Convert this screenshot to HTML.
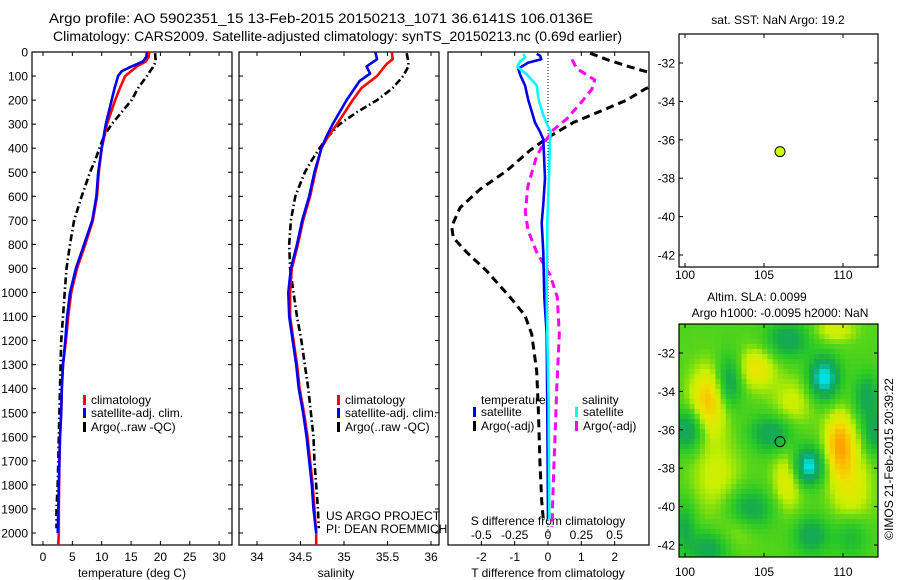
<!DOCTYPE html>
<html><head><meta charset="utf-8"><style>
html,body{margin:0;padding:0;background:#fff;}
svg{display:block;font-family:"Liberation Sans",sans-serif;}
</style></head><body>
<svg id="chart" width="900" height="580" viewBox="0 0 900 580" xmlns="http://www.w3.org/2000/svg">
<defs>
<clipPath id="c1"><rect x="32" y="52" width="200" height="493"/></clipPath>
<clipPath id="c2"><rect x="239" y="52" width="200" height="493"/></clipPath>
<clipPath id="c3"><rect x="448" y="52" width="201" height="493"/></clipPath>
</defs>
<text x="49" y="23" font-size="13.5" textLength="544" lengthAdjust="spacingAndGlyphs">Argo profile: AO 5902351_15 13-Feb-2015 20150213_1071 36.6141S 106.0136E</text>
<text x="53" y="41" font-size="13.5" textLength="569" lengthAdjust="spacingAndGlyphs">Climatology: CARS2009. Satellite-adjusted climatology: synTS_20150213.nc (0.69d earlier)</text>
<g id="g"></g>
</svg>
<script>
// ---------- profile data ----------
const tDepth = [0,20,40,60,80,100,150,200,300,400,500,600,700,800,900,1000,1100,1200,1300,1400,1500,1600,1700,1800,1900,2000,2050];
const tClim  = [18.1,18.0,17.5,16.0,15.0,14.0,13.1,12.3,10.9,10.0,9.5,9.2,8.5,7.2,5.8,4.8,4.3,3.9,3.4,3.2,3.1,2.9,2.8,2.75,2.7,2.7,2.6];
const tSat   = [17.7,17.6,17.0,15.1,13.4,12.8,12.2,11.7,10.7,10.0,9.4,9.1,8.4,7.0,5.6,4.6,4.1,3.8,3.4,3.2,3.1,2.9,2.8,2.7,2.6,2.5,2.5];
const argoDepth = [5,40,60,100,150,200,250,300,350,400,450,500,600,700,800,900,1000,1100,1200,1300,1400,1500,1600,1700,1800,1900,1980];
const tArgo  = [19.1,19.2,18.8,17.7,16.2,15.1,13.4,11.7,10.4,9.6,8.9,8.0,6.6,5.3,4.6,4.0,3.7,3.4,3.1,3.0,2.9,2.8,2.7,2.6,2.5,2.3,2.3];
const sDepth = [0,30,50,100,150,200,250,300,350,400,500,600,700,800,900,1000,1100,1200,1300,1400,1500,1600,1700,1800,1900,2000,2050];
const sClim  = [35.55,35.56,35.49,35.38,35.2,35.1,35.01,34.92,34.82,34.74,34.67,34.61,34.53,34.47,34.4,34.38,34.38,34.42,34.46,34.49,34.54,34.58,34.61,34.64,34.66,34.68,34.68];
const sSatDepth = [0,30,60,90,120,200,300,350,400,500,600,700,800,900,1000,1100,1200,1300,1400,1500,1600,1700,1800,1900,2000];
const sSat   = [35.36,35.38,35.26,35.3,35.18,35.03,34.87,34.8,34.74,34.66,34.6,34.52,34.46,34.39,34.36,34.37,34.41,34.45,34.48,34.53,34.57,34.6,34.63,34.65,34.68];
const sArgo  = [35.72,35.74,35.74,35.68,35.56,35.38,35.15,34.95,34.82,34.72,34.63,34.55,34.44,34.39,34.37,34.38,34.42,34.46,34.51,34.55,34.59,34.62,34.65,34.66,34.68,34.7,34.71];
// ---------- difference data ----------
const dTSatDepth = [8,15,30,45,69,93,139,200,247,293,332,363,432,525,633,710,833,1019,1173,1481,1944];
const dTSat  = [-0.34,-0.24,-0.2,-0.6,-0.89,-0.84,-0.69,-0.59,-0.49,-0.39,-0.24,-0.14,-0.12,-0.09,-0.14,-0.19,-0.14,-0.11,-0.04,-0.02,0];
const dSSatDepth = [8,23,39,62,93,139,200,262,309,332,370,478,710,1019,1173,1481,1944];
const dSSat  = [-0.185,-0.17,-0.21,-0.23,-0.16,-0.085,-0.07,-0.035,0,0.02,0.015,0.01,-0.005,-0.01,-0.005,0.005,0.01];
const dTArgoDepth = [5,31,62,80,93,110,154,200,247,293,355,409,494,571,648,725,772,833,910,1019,1096,1173,1327,1481,1713,1867,1944];
const dTArgo = [1.26,1.76,2.46,2.9,3.3,3.6,2.91,2.36,1.56,0.76,0,-0.54,-1.24,-2.04,-2.64,-2.89,-2.84,-2.44,-1.84,-1.14,-0.69,-0.49,-0.34,-0.29,-0.24,-0.19,-0.14];
const dSArgoDepth = [31,69,116,154,216,278,324,370,432,556,664,741,833,926,1019,1173,1404,1636,1790,1975];
const dSArgo = [0.18,0.215,0.35,0.33,0.24,0.14,0.04,-0.02,-0.085,-0.15,-0.17,-0.15,-0.085,0.015,0.07,0.085,0.065,0.05,0.04,0.03];
// ---------- tick labels ----------
const depthTicks = [0,100,200,300,400,500,600,700,800,900,1000,1100,1200,1300,1400,1500,1600,1700,1800,1900,2000];
const tempTicks = [0,5,10,15,20,25,30];
const salTicks = [34,34.5,35,35.5,36];
const tdTicks = [-2,-1,0,1,2];
const sdTicks = [-0.5,-0.25,0,0.25,0.5];
const lonTicks = [100,105,110];
const latTicks = [-32,-34,-36,-38,-40,-42];
// ---------- SLA map blobs (lon, lat, amplitude, lon-width, lat-width) ----------
const blobLon = [101.5,109.8,104.5,106.5,102.0,110.5,106.8,108.8,107.8,102.8,100.2,105.5,104.0,108.0,111.5,106.5,112.0,101.5,109.5,103.5,110.5,100.0];
const blobLat = [-34.5,-36.7,-32.8,-38.6,-38.5,-39.0,-34.6,-33.3,-37.9,-33.5,-36.0,-36.2,-40.2,-41.5,-34.3,-31.3,-36.2,-42.2,-30.8,-41.0,-41.5,-41.0];
const blobAmp = [0.75,0.85,0.55,0.5,0.35,0.45,0.35,-1.1,-1.1,-0.7,-0.75,-0.65,-0.65,-0.6,-0.55,-0.6,-0.55,-0.55,0.4,0.3,-0.4,-0.45];
const blobSx  = [0.9,0.7,0.9,0.7,1.2,1.0,1.0,0.7,0.7,0.6,0.7,1.0,1.1,0.8,0.6,1.0,0.5,0.9,1.0,1.0,0.8,0.5];
const blobSy  = [1.3,1.2,0.8,1.2,1.5,1.5,1.0,0.8,0.7,1.0,0.8,0.7,0.8,0.7,0.9,0.7,0.8,0.7,0.5,0.8,0.8,1.0];
const mapBase = 0.0;
const argoLon = 106.0136, argoLat = -36.6141;

const NS="http://www.w3.org/2000/svg";
const G=document.getElementById('g');
function el(tag, attrs, parent){const e=document.createElementNS(NS,tag);for(const k in attrs)e.setAttribute(k,attrs[k]);(parent||G).appendChild(e);return e;}
function txt(s,x,y,attrs,name){const e=el('text',Object.assign({x:x,y:y,'font-size':12},attrs||{}));e.textContent=s;


return e;}

// scales
const yD = d => 52 + d*0.2405;
const x1 = t => 43 + t*5.87;
const x2 = s => 257 + (s-34)*87;
const x3 = t => 548 + t*33.33;
const x3s = s => 548 + s*133.3;
const mX = lon => 685 + (lon-100)*15.8;
const mY1 = lat => 63 + (-32-lat)*19.2;
const mY2 = lat => 353 + (-32-lat)*19.2;

function line(xs, ds, xf, style, clip, name){
  const pts = xs.map((v,i)=>xf(v).toFixed(1)+','+yD(ds[i]).toFixed(1)).join(' ');
  const p = el('polyline', Object.assign({points:pts, fill:'none', 'clip-path':'url(#'+clip+')', 'stroke-linejoin':'round'}, style));
  
  
}
function box(x,y,w,h,name){const r=el('rect',{x:x,y:y,width:w,height:h,fill:'none',stroke:'#000','stroke-width':1.2});


}
function tick(x1_,y1_,x2_,y2_){el('line',{x1:x1_,y1:y1_,x2:x2_,y2:y2_,stroke:'#000','stroke-width':1});}

// ---- map heatmap (drawn first) ----
function colorFor(v){
  const stops=[[-1.0,[0,224,224]],[-0.7,[16,168,104]],[-0.45,[24,172,72]],[-0.2,[40,200,40]],[0.05,[90,214,24]],[0.3,[200,240,0]],[0.55,[236,228,0]],[0.8,[255,184,0]],[1.0,[255,150,0]]];
  if(v<=stops[0][0])return 'rgb('+stops[0][1]+')';
  for(let i=1;i<stops.length;i++){if(v<=stops[i][0]){const a=stops[i-1],b=stops[i];const f=(v-a[0])/(b[0]-a[0]);
    return 'rgb('+a[1].map((c,k)=>Math.round(c+(b[1][k]-c)*f)).join(',')+')';}}
  return 'rgb('+stops[stops.length-1][1]+')';
}
const blobScale=1.35;
const heat=el('g',{});


const cw=5.2, ch=5;
for(let px=679;px<878;px+=cw){
  for(let py=324;py<557;py+=ch){
    const lon=100+(px+cw/2-685)/15.8, lat=-32-(py+ch/2-353)/19.2;
    let v=mapBase;
    for(let b=0;b<blobLon.length;b++){const dx=(lon-blobLon[b])/(blobSx[b]*blobScale),dy=(lat-blobLat[b])/(blobSy[b]*blobScale);v+=blobAmp[b]*Math.exp(-(dx*dx+dy*dy));}
    const r=el('rect',{x:px.toFixed(1),y:py,width:(Math.min(cw,878-px)+0.3).toFixed(1),height:Math.min(ch,557-py)+0.3,fill:colorFor(v)},heat);
    
    
  }
}

// ---- panel frames and ticks ----
const panels=[[32,232,'temperature-panel'],[239,439,'salinity-panel'],[448,649,'difference-panel']];
panels.forEach((p,i)=>{
  box(p[0],52,p[1]-p[0],493,p[2]+'-frame');
  if(i<2) depthTicks.forEach(d=>{tick(p[0],yD(d),p[0]+4,yD(d));tick(p[1],yD(d),p[1]-4,yD(d));});
});
depthTicks.forEach(d=>{txt(String(d),28,yD(d)+4.5,{'text-anchor':'end'},'depth-tick-label');});
tempTicks.forEach(t=>{tick(x1(t),52,x1(t),56);tick(x1(t),545,x1(t),541);txt(String(t),x1(t),561,{'text-anchor':'middle'},'temperature-tick-label');});
salTicks.forEach(s=>{tick(x2(s),52,x2(s),56);tick(x2(s),545,x2(s),541);txt(String(s),x2(s),561,{'text-anchor':'middle'},'salinity-tick-label');});
tdTicks.forEach(t=>{tick(x3(t),52,x3(t),56);tick(x3(t),545,x3(t),541);txt(String(t),x3(t),561,{'text-anchor':'middle'},'t-difference-tick-label');});
sdTicks.forEach(s=>{txt(String(s),x3s(s),539,{'text-anchor':'middle'},'s-difference-tick-label');});
txt('temperature (deg C)',132,577,{'text-anchor':'middle'},'temperature-axis-title');
txt('salinity',336,577,{'text-anchor':'middle'},'salinity-axis-title');
txt('T difference from climatology',548,577,{'text-anchor':'middle'},'t-difference-axis-title');
txt('S difference from climatology',548,525,{'text-anchor':'middle'},'s-difference-axis-title');
el('line',{x1:548,y1:52,x2:548,y2:545,stroke:'#000','stroke-width':1,'stroke-dasharray':'1,2'});

// ---- series ----
const solid=c=>({stroke:c,'stroke-width':2.6});
const dashdot={stroke:'#000','stroke-width':2.6,'stroke-dasharray':'7,3,1.5,3'};
line(tArgo,argoDepth,x1,dashdot,'c1','temperature-argo-line');
line(tClim,tDepth,x1,solid('#f00'),'c1','temperature-climatology-line');
line(tSat,tDepth.slice(0,26),x1,solid('#0000f0'),'c1','temperature-satellite-line');
line(sArgo,argoDepth,x2,dashdot,'c2','salinity-argo-line');
line(sClim,sDepth,x2,solid('#f00'),'c2','salinity-climatology-line');
line(sSat,sSatDepth,x2,solid('#0000f0'),'c2','salinity-satellite-line');
line(dTArgo,dTArgoDepth,x3,{stroke:'#000','stroke-width':3,'stroke-dasharray':'8,5'},'c3','t-difference-argo-line');
line(dSArgo,dSArgoDepth,x3s,{stroke:'#f0f','stroke-width':3,'stroke-dasharray':'8,5'},'c3','s-difference-argo-line');
line(dTSat,dTSatDepth,x3,solid('#0000f0'),'c3','t-difference-satellite-line');
line(dSSat,dSSatDepth,x3s,solid('#00ffff'),'c3','s-difference-satellite-line');

// ---- legends ----
function legItem(x,y,c,label,name){
  const r=el('rect',{x:x,y:y-9,width:3,height:10,fill:c});
  
  
  txt(label,x+8,y,{},name);
}
[[83,'1'],[337,'2']].forEach(a=>{
  legItem(a[0],404,'#f00','climatology','legend-climatology');
  legItem(a[0],417,'#0000f0','satellite-adj. clim.','legend-satellite-adj');
  legItem(a[0],431,'#000','Argo(..raw -QC)','legend-argo');
});
txt('temperature',481,404,{},'legend-temperature-heading');
txt('salinity',582,404,{},'legend-salinity-heading');
legItem(473,416,'#0000f0','satellite','legend-t-satellite');
legItem(473,430,'#000','Argo(-adj)','legend-t-argo');
legItem(575,416,'#00ffff','satellite','legend-s-satellite');
legItem(575,430,'#f0f','Argo(-adj)','legend-s-argo');
txt('US ARGO PROJECT',326,520,{},'project-label');
txt('PI: DEAN ROEMMICH',326,533,{},'pi-label');

// ---- maps ----
box(679,34,199,233,'sst-map-frame');
box(679,324,199,233,'sla-map-frame');
[[mY1,34,267,279],[mY2,324,557,576]].forEach((m,mi)=>{
  lonTicks.forEach(l=>{tick(mX(l),m[1],mX(l),m[1]+4);tick(mX(l),m[2],mX(l),m[2]-4);txt(String(l),mX(l),m[3],{'text-anchor':'middle'},'longitude-tick-label');});
  latTicks.forEach(l=>{tick(679,m[0](l),683,m[0](l));tick(878,m[0](l),874,m[0](l));txt(String(l),675,m[0](l)+4.5,{'text-anchor':'end'},'latitude-tick-label');});
});
const dot=el('circle',{cx:mX(argoLon),cy:mY1(argoLat),r:5,fill:'#ccff00',stroke:'#000','stroke-width':1});


const ring=el('circle',{cx:mX(argoLon),cy:mY2(argoLat),r:5,fill:'none',stroke:'#000','stroke-width':1});


txt('sat. SST: NaN Argo: 19.2',778,24,{'text-anchor':'middle'},'sst-map-title');
txt('Altim. SLA: 0.0099',757,301,{'text-anchor':'middle'},'sla-map-title');
txt('Argo h1000: -0.0095 h2000: NaN',780,317,{'text-anchor':'middle'},'sla-map-subtitle');
txt('©IMOS 21-Feb-2015 20:39:22',893,459,{'text-anchor':'middle',transform:'rotate(-90 893 459)'},'imos-timestamp');
</script>
</body></html>
